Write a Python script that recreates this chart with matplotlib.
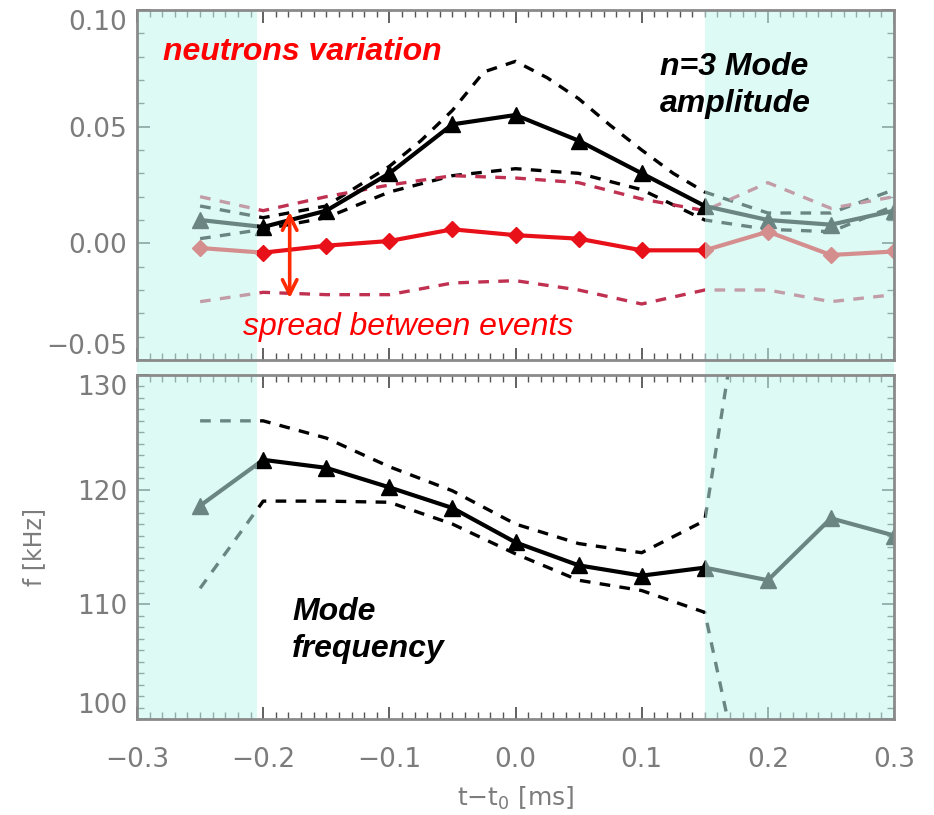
import matplotlib
matplotlib.use("Agg")
import matplotlib.pyplot as plt
from matplotlib.ticker import MultipleLocator

# ---------------- data ----------------
t = [-0.25, -0.20, -0.15, -0.10, -0.05, 0.00, 0.05, 0.10, 0.15, 0.20, 0.25, 0.30]

# n=3 mode amplitude (top panel)
amp_mean = [0.010, 0.007, 0.014, 0.030, 0.051, 0.055, 0.044, 0.030, 0.016, 0.010, 0.008, 0.014]
t_amp_up = [-0.25, -0.20, -0.15, -0.10, -0.075, -0.05, -0.025, 0.00, 0.025, 0.05,
            0.075, 0.10, 0.125, 0.15, 0.20, 0.25, 0.30]
amp_upper = [0.016, 0.011, 0.016, 0.033, 0.044, 0.057, 0.0735, 0.078, 0.071, 0.062,
             0.0506, 0.040, 0.030, 0.022, 0.013, 0.013, 0.023]
amp_lower = [0.002, 0.006, 0.011, 0.022, 0.029, 0.032, 0.030, 0.023, 0.010, 0.006, 0.005, 0.016]

# neutrons variation (top panel)
neu_mean = [-0.002, -0.004, -0.001, 0.001, 0.006, 0.0035, 0.002, -0.003, -0.003, 0.005, -0.005, -0.0035]
neu_upper = [0.020, 0.014, 0.020, 0.025, 0.029, 0.028, 0.026, 0.019, 0.014, 0.026, 0.015, 0.020]
neu_lower = [-0.025, -0.021, -0.022, -0.022, -0.017, -0.016, -0.020, -0.026, -0.020, -0.020, -0.025, -0.022]

# mode frequency (bottom panel)
freq_mean = [118.6, 122.6, 121.9, 120.2, 118.4, 115.4, 113.4, 112.5, 113.2, 112.1, 117.5, 116.0]
t_fband = [-0.25, -0.20, -0.15, -0.10, -0.05, 0.00, 0.05, 0.10, 0.15, 0.20]
freq_upper = [126.0, 126.0, 124.5, 122.0, 119.9, 117.0, 115.3, 114.5, 117.3, 152.0]
freq_lower = [111.4, 119.0, 119.0, 118.9, 117.0, 114.4, 112.1, 111.2, 109.3, 83.7]

top_yticks = [-0.05, 0.0, 0.05, 0.10]
top_yticklabels = ["\u22120.05", "0.00", "0.05", "0.10"]
bot_yticks = [100, 110, 120, 130]
bot_yticklabels = ["100", "110", "120", "130"]
xticks = [-0.3, -0.2, -0.1, 0.0, 0.1, 0.2, 0.3]
xticklabels = ["\u22120.3", "\u22120.2", "\u22120.1", "0.0", "0.1", "0.2", "0.3"]

shade_left = (-0.3, -0.205)
shade_right = (0.15, 0.3)

# ---------------- style ----------------
TICK_GRAY = "#7c7c7c"
SPINE_GRAY = "#8a8a8a"
OVERLAY = (196 / 255, 246 / 255, 238 / 255)
OV_ALPHA = 0.55
BLACK = "#000000"
RED = "#e8111a"
RED_DASH = "#c03050"

fig = plt.figure(figsize=(9.34, 8.15), dpi=100)
ax1 = fig.add_axes([0.1467, 0.5583, 0.8105, 0.4294])
ax2 = fig.add_axes([0.1467, 0.1178, 0.8105, 0.4221])

dash = (0, (3.2, 2.8))


def style_axes(ax):
    for sp in ax.spines.values():
        sp.set_color(SPINE_GRAY)
        sp.set_linewidth(2)
        sp.set_zorder(10)
    ax.tick_params(which="both", direction="in", top=True, right=True,
                   color="#555555", labelcolor=TICK_GRAY, labelsize=19)
    ax.tick_params(which="major", length=9, width=1.3)
    ax.tick_params(which="minor", length=5, width=1.0)
    ax.tick_params(axis="y", pad=7)
    ax.tick_params(axis="x", pad=20)
    ax.set_xlim(-0.3, 0.3)
    ax.xaxis.set_minor_locator(MultipleLocator(0.01))


# ---- top panel ----
ax1.plot(t_amp_up, amp_upper, color=BLACK, lw=2.4, ls=dash, zorder=2)
ax1.plot(t, amp_lower, color=BLACK, lw=2.4, ls=dash, zorder=2)
ax1.plot(t, neu_upper, color=RED_DASH, lw=2.4, ls=dash, zorder=2)
ax1.plot(t, neu_lower, color=RED_DASH, lw=2.4, ls=dash, zorder=2)
ax1.plot(t, amp_mean, color=BLACK, lw=3, marker="^", ms=11, zorder=3)
ax1.plot(t, neu_mean, color=RED, lw=3, marker="D", ms=8, zorder=3)

style_axes(ax1)
ax1.set_ylim(-0.05, 0.10)
ax1.set_xticks(xticks)
ax1.tick_params(labelbottom=False)
ax1.yaxis.set_minor_locator(MultipleLocator(0.01))
ax1.set_yticks(top_yticks)
ax1.set_yticklabels(top_yticklabels, fontfamily="DejaVu Sans")
labs = ax1.get_yticklabels()
labs[0].set_va("bottom")
labs[-1].set_va("top")

# shading extends slightly below the top panel to fill the gap between panels
for a, b in (shade_left, shade_right):
    ax1.axvspan(a, b, ymin=-0.045, ymax=1.0, color=OVERLAY, alpha=OV_ALPHA,
                lw=0, zorder=5, clip_on=False)

ax1.text(-0.2794, 0.0819, "neutrons variation", color="#ff0000",
         fontfamily="Liberation Sans", fontweight="bold", fontstyle="italic",
         fontsize=23, ha="left", va="center", zorder=8)
ax1.text(0.1144, 0.0677, "n=3 Mode\namplitude", color=BLACK,
         fontfamily="Liberation Sans", fontweight="bold", fontstyle="italic",
         fontsize=23, ha="left", va="center", linespacing=1.3, zorder=8)
ax1.text(-0.216, -0.036, "spread between events", color="#ff0000",
         fontfamily="Liberation Sans", fontstyle="italic",
         fontsize=23, ha="left", va="center", zorder=8)
ax1.annotate("", xy=(-0.179, 0.0135), xytext=(-0.179, -0.0235),
             arrowprops=dict(arrowstyle="<->", color="#ff2a00", lw=2.6,
                             mutation_scale=26, shrinkA=0, shrinkB=0),
             zorder=8)

# ---- bottom panel ----
ax2.plot(t_fband, freq_upper, color=BLACK, lw=2.4, ls=dash, zorder=2)
ax2.plot(t_fband, freq_lower, color=BLACK, lw=2.4, ls=dash, zorder=2)
ax2.plot(t, freq_mean, color=BLACK, lw=3, marker="^", ms=11, zorder=3)

style_axes(ax2)
ax2.set_ylim(100, 130)
ax2.yaxis.set_minor_locator(MultipleLocator(1))
ax2.set_xticks(xticks)
ax2.set_xticklabels(xticklabels, fontfamily="DejaVu Sans")
ax2.set_yticks(bot_yticks)
ax2.set_yticklabels(bot_yticklabels, fontfamily="DejaVu Sans")
labs = ax2.get_yticklabels()
labs[0].set_va("bottom")
labs[-1].set_va("top")

for a, b in (shade_left, shade_right):
    ax2.axvspan(a, b, color=OVERLAY, alpha=OV_ALPHA, lw=0, zorder=5)

ax2.text(-0.177, 107.7, "Mode\nfrequency", color=BLACK,
         fontfamily="Liberation Sans", fontweight="bold", fontstyle="italic",
         fontsize=23, ha="left", va="center", linespacing=1.3, zorder=8)

ax2.set_xlabel("t\u2212t$_0$ [ms]", color=TICK_GRAY, fontsize=18,
               fontfamily="DejaVu Sans")
ax2.set_ylabel("f [kHz]", color=TICK_GRAY, fontsize=17,
               fontfamily="DejaVu Sans")
ax2.yaxis.set_label_coords(-0.12, 0.5)
ax2.xaxis.set_label_coords(0.5, -0.19)

fig.savefig("out.png", dpi=100)
